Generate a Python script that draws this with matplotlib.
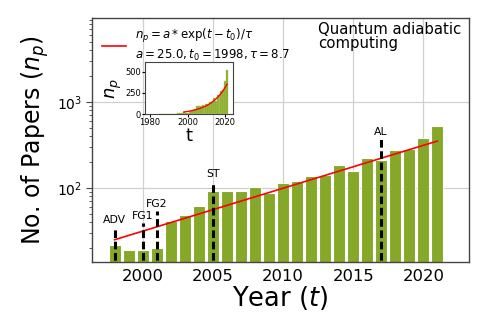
import numpy as np
import matplotlib
matplotlib.use("Agg")
from matplotlib import pyplot as plt

# papers per year (main plot)
years = [1998, 1999, 2000, 2001, 2002, 2003, 2004, 2005, 2006, 2007, 2008, 2009,
         2010, 2011, 2012, 2013, 2014, 2015, 2016, 2017, 2018, 2019, 2020, 2021]
papers = [22, 19, 19, 20, 41, 49, 61, 93, 93, 93, 104, 87,
          113, 120, 138, 143, 184, 156, 225, 212, 277, 284, 384, 521]

# early years, only visible in the inset
early_years = [1985, 1986, 1987, 1988, 1989, 1990, 1991, 1992, 1993, 1994, 1995, 1996, 1997]
early_papers = [1, 1, 2, 2, 3, 4, 5, 4, 6, 7, 8, 10, 12]

# fit parameters
a_fit = 25.0
t0_fit = 1998
tau_fit = 8.7

# milestones
ms_labels = ["ADV", "FG1", "FG2", "ST", "AL"]
ms_years = [1998, 2000, 2001, 2005, 2017]
ms_tops = [35, 39, 54, 120, 375]

bar_col = "#85a828"
grid_col = "#d0d0d0"
spine_col = "#444444"

fig = plt.figure(figsize=(4.9, 3.27), dpi=100)
ax = fig.add_axes([0.188, 0.199, 0.769, 0.746])

ax.bar(years, papers, width=0.86, color=bar_col, edgecolor="white", linewidth=0.8, zorder=2)
t_fit = np.array(years, dtype=float)
n_fit = a_fit * np.exp((t_fit - t0_fit) / tau_fit)
ax.plot(t_fit, n_fit, color="red", lw=1.2, zorder=3,
        label="$n_p = a * \\exp(t - t_0)/\\tau$\n$a = 25.0, t_0 = 1998, \\tau = 8.7$")

for lab, yr, top in zip(ms_labels, ms_years, ms_tops):
    ax.plot([yr, yr], [1, top], color="black", lw=2.2, dashes=(2.5, 1.2), zorder=4)
    ax.annotate(lab, (yr, top), xytext=(0, 1.5), textcoords="offset points",
                ha="center", va="bottom", fontsize=7.8)

ax.set_yscale("log")
ax.set_xlim(1996.4, 2023.25)
ax.set_ylim(13.8, 9500)
ax.set_xticks([2000, 2005, 2010, 2015, 2020])
ax.tick_params(axis="x", labelsize=11.8, length=0, pad=5)
ax.tick_params(axis="y", labelsize=10)
ax.tick_params(axis="y", which="major", length=4, color=spine_col)
ax.tick_params(axis="y", which="minor", length=2, color=spine_col)
ax.grid(True, which="major", color=grid_col, lw=0.9, zorder=0)
ax.set_axisbelow(True)
for s in ax.spines.values():
    s.set_color(spine_col)
    s.set_linewidth(1.0)

ax.set_xlabel("Year ($t$)", fontsize=18.5, labelpad=0)
ax.set_ylabel("No. of Papers ($n_p$)", fontsize=17, labelpad=4)
ax.legend(loc="upper left", frameon=False, fontsize=8.5, handlelength=2.1,
          borderaxespad=0.3, handletextpad=0.7, borderpad=0.5)
ax.text(0.6, 0.985, "Quantum adiabatic\ncomputing", transform=ax.transAxes,
        ha="left", va="top", fontsize=10.7, linespacing=0.95)

# inset with linear axis
ins = fig.add_axes([0.296, 0.651, 0.18, 0.159])
ins.bar(early_years + years, early_papers + papers, width=1.0, color=bar_col,
        edgecolor="#b5cf6a", linewidth=0.3, zorder=2)
ins.plot(t_fit, n_fit, color="red", lw=1.0, zorder=3)
ins.set_xlim(1977.3, 2024.3)
ins.set_ylim(0, 610)
ins.set_xticks([1980, 2000, 2020])
ins.set_yticks([0, 250, 500])
ins.tick_params(labelsize=6, length=2, pad=1)
ins.grid(False)
for s in ins.spines.values():
    s.set_color(spine_col)
    s.set_linewidth(0.8)
ins.set_xlabel("t", fontsize=13, labelpad=0)
ins.set_ylabel("$n_p$", fontsize=13, labelpad=1)

fig.savefig("out.png", dpi=100)
